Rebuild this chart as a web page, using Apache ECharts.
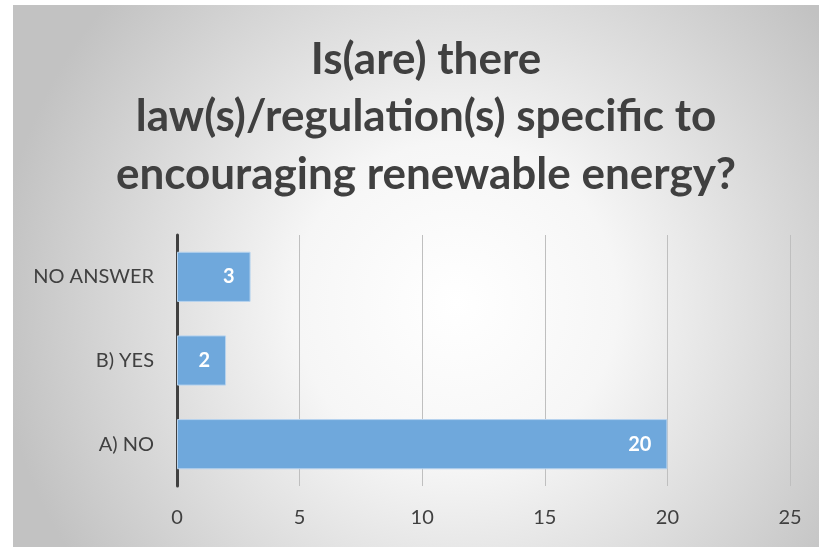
<!DOCTYPE html>
<html>
<head>
<meta charset="utf-8">
<script src="https://cdn.jsdelivr.net/npm/echarts@6/dist/echarts.min.js"></script>
<style>
html,body{margin:0;padding:0;background:#fff;}
#c{width:819px;height:547px;}
</style>
</head>
<body>
<div id="c"></div>
<script>
const titleText = 'Is(are) there\nlaw(s)/regulation(s) specific to\nencouraging renewable energy?';
const categories = ['A) NO', 'B) YES', 'NO ANSWER'];
const values = [20, 2, 3];
const xTicks = { min: 0, max: 25, interval: 5 };

const chart = echarts.init(document.getElementById('c'), null, { renderer: 'canvas' });
chart.setOption({
  animation: false,
  backgroundColor: '#ffffff',
  graphic: [{
    type: 'rect',
    z: -10,
    silent: true,
    shape: { x: 13, y: 5, width: 806, height: 542 },
    style: {
      fill: {
        type: 'radial', x: 0.55, y: 0.55, r: 0.85,
        colorStops: [
          { offset: 0, color: '#ffffff' },
          { offset: 0.35, color: '#f6f6f6' },
          { offset: 1, color: '#c2c2c2' }
        ]
      }
    }
  }],
  title: {
    text: titleText,
    left: 421,
    top: 26,
    textAlign: 'center',
    textStyle: {
      fontFamily: 'Lato',
      fontWeight: 'bold',
      fontSize: 44,
      lineHeight: 57.5,
      color: '#404040'
    }
  },
  grid: { left: 177, right: 29, top: 235, bottom: 61, containLabel: false },
  xAxis: {
    type: 'value',
    min: xTicks.min, max: xTicks.max, interval: xTicks.interval,
    axisLine: { show: false },
    axisTick: { show: false },
    splitLine: { show: true, lineStyle: { color: '#bfbfbf', width: 1 } },
    axisLabel: { color: '#404040', fontFamily: 'Lato', fontSize: 20, margin: 22 }
  },
  yAxis: {
    type: 'category',
    data: categories,
    axisLine: { show: true, lineStyle: { color: '#404040', width: 3 } },
    axisTick: { show: false },
    splitLine: { show: false },
    axisLabel: { color: '#404040', fontFamily: 'Lato', fontSize: 20, margin: 23 }
  },
  series: [{
    type: 'bar',
    data: values,
    barCategoryGap: '40%',
    itemStyle: { color: '#6fa8dc', borderColor: '#b7d3ee', borderWidth: 1 },
    label: {
      show: true,
      position: 'insideRight',
      distance: 16,
      color: '#ffffff',
      fontFamily: 'Lato',
      fontWeight: 'bold',
      fontSize: 20
    }
  }]
});
</script>
</body>
</html>
